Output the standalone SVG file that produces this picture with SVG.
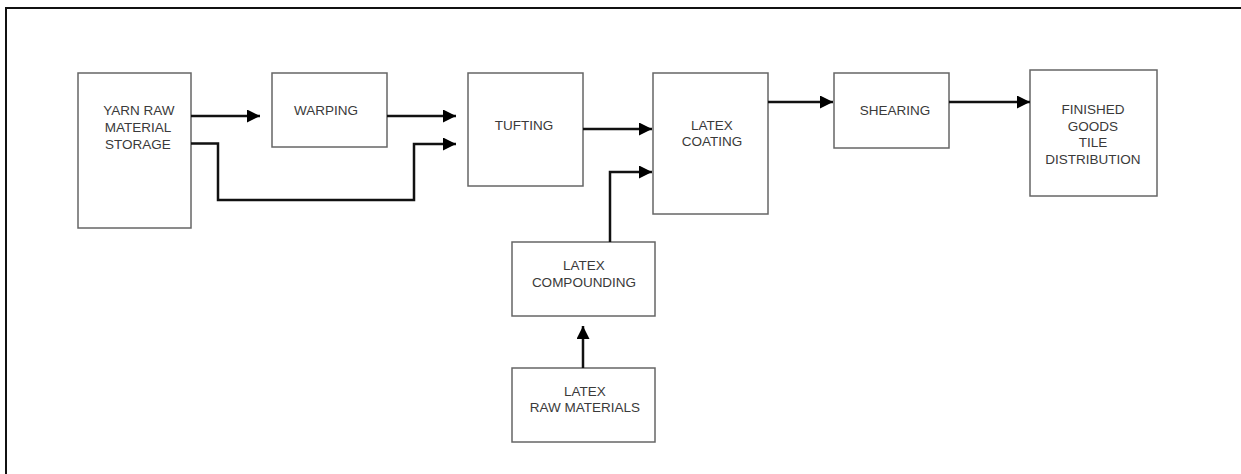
<svg xmlns="http://www.w3.org/2000/svg" width="1241" height="474" viewBox="0 0 1241 474">
<defs>
<marker id="ah" markerUnits="userSpaceOnUse" markerWidth="14" markerHeight="14" refX="13" refY="6.5" orient="auto">
<path d="M0,0 L13,6.5 L0,13 z" fill="#000"/>
</marker>
</defs>
<style>
.box{fill:#fff;stroke:#666;stroke-width:1.5}
.lbl{font-family:"Liberation Sans",Arial,sans-serif;font-size:13.5px;fill:#3a3a3a;text-anchor:middle}
.c{fill:none;stroke:#111;stroke-width:2.5}
.frame{fill:none;stroke:#111;stroke-width:2}
</style>
<rect width="1241" height="474" fill="#fff"/>
<path class="frame" d="M6,480 L6,8 L1245,8"/>
<g id="yarn">
<rect class="box" x="78" y="73" width="113" height="155"/>
<text class="lbl" x="139" y="115">YARN RAW</text>
<text class="lbl" x="138" y="132">MATERIAL</text>
<text class="lbl" x="138" y="149">STORAGE</text>
</g>
<g id="warping">
<rect class="box" x="272" y="73" width="115" height="74"/>
<text class="lbl" x="326" y="115">WARPING</text>
</g>
<g id="tufting">
<rect class="box" x="468" y="73" width="115" height="113"/>
<text class="lbl" x="524" y="130">TUFTING</text>
</g>
<g id="coating">
<rect class="box" x="653" y="73" width="115" height="141"/>
<text class="lbl" x="712" y="130">LATEX</text>
<text class="lbl" x="712" y="146">COATING</text>
</g>
<g id="shearing">
<rect class="box" x="834" y="73" width="115" height="75"/>
<text class="lbl" x="895" y="115">SHEARING</text>
</g>
<g id="finished">
<rect class="box" x="1030" y="70" width="127" height="126"/>
<text class="lbl" x="1093" y="114">FINISHED</text>
<text class="lbl" x="1093" y="131">GOODS</text>
<text class="lbl" x="1093" y="147">TILE</text>
<text class="lbl" x="1093" y="164">DISTRIBUTION</text>
</g>
<g id="compounding">
<rect class="box" x="512" y="242" width="143" height="74"/>
<text class="lbl" x="584" y="270">LATEX</text>
<text class="lbl" x="584" y="287">COMPOUNDING</text>
</g>
<g id="rawmaterials">
<rect class="box" x="512" y="368" width="143" height="74"/>
<text class="lbl" x="585" y="396">LATEX</text>
<text class="lbl" x="585" y="412">RAW MATERIALS</text>
</g>
<g id="connectors">
<path class="c" d="M191,116 L260,116" marker-end="url(#ah)"/>
<path class="c" d="M387,116 L456,116" marker-end="url(#ah)"/>
<path class="c" d="M191,143.5 L218,143.5 L218,200 L414,200 L414,144 L456,144" marker-end="url(#ah)"/>
<path class="c" d="M583,129 L652,129" marker-end="url(#ah)"/>
<path class="c" d="M610,242 L610,172 L652,172" marker-end="url(#ah)"/>
<path class="c" d="M583,368 L583,326" marker-end="url(#ah)"/>
<path class="c" d="M768,102 L833,102" marker-end="url(#ah)"/>
<path class="c" d="M949,102 L1030,102" marker-end="url(#ah)"/>
</g>
</svg>
